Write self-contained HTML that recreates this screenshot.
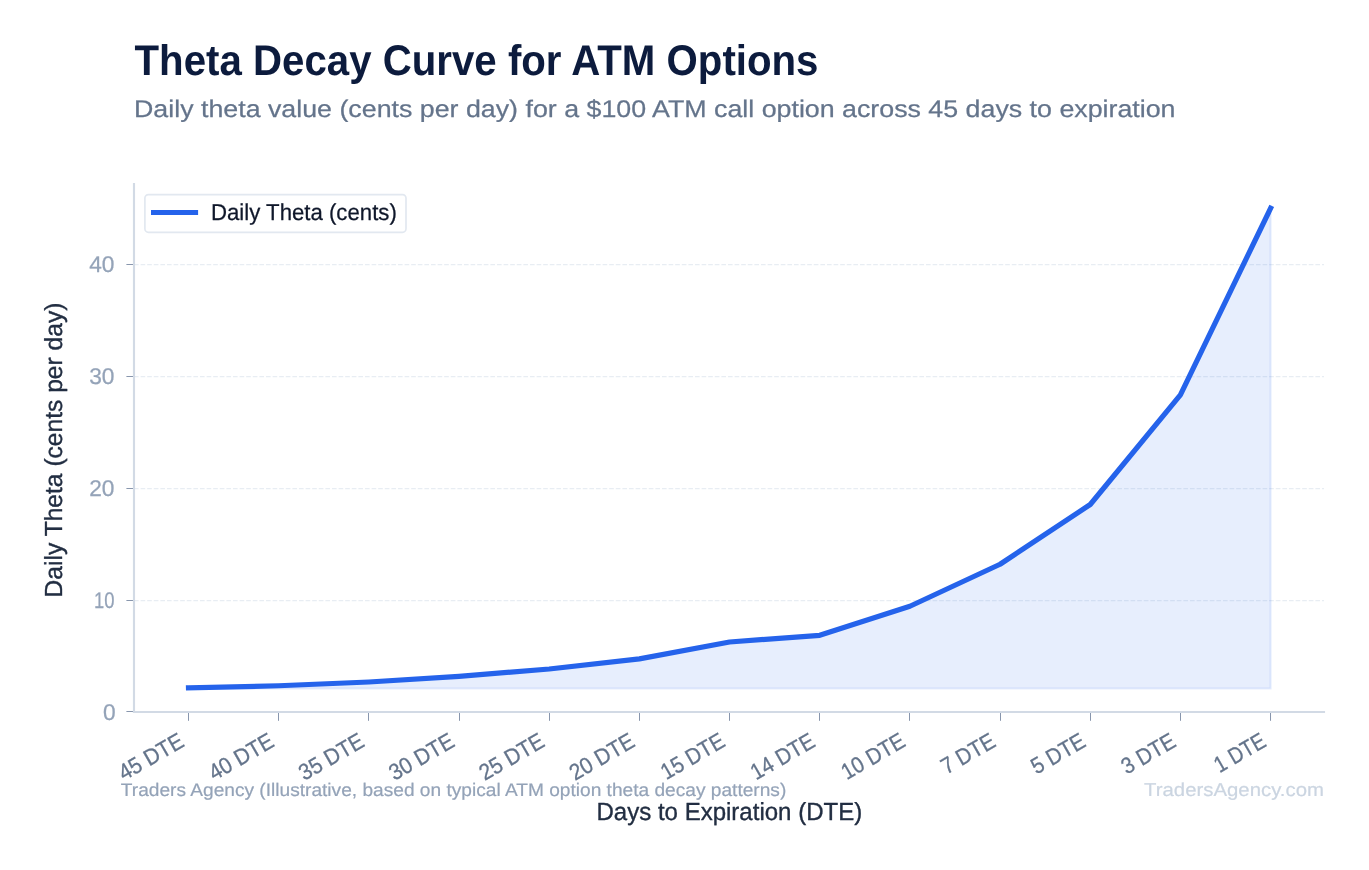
<!DOCTYPE html>
<html lang="en">
<head>
<meta charset="utf-8">
<title>Theta Decay Curve for ATM Options</title>
<style>
html,body{margin:0;padding:0;background:#ffffff;}
body{width:1369px;height:870px;overflow:hidden;position:relative;font-family:"Liberation Sans", sans-serif;}
svg text{font-family:"Liberation Sans", sans-serif;text-rendering:geometricPrecision;}
</style>
</head>
<body>
<svg width="1369" height="870" viewBox="0 0 1369 870" style="position:absolute;left:0;top:0;display:block;will-change:transform">
<rect x="0" y="0" width="1369" height="870" fill="#ffffff"/>
<line x1="134.0" y1="600.50" x2="1324.0" y2="600.50" stroke="#e2e8f0" stroke-width="1.25" stroke-dasharray="4.6 2" stroke-opacity="0.8"/>
<line x1="134.0" y1="488.50" x2="1324.0" y2="488.50" stroke="#e2e8f0" stroke-width="1.25" stroke-dasharray="4.6 2" stroke-opacity="0.8"/>
<line x1="134.0" y1="376.50" x2="1324.0" y2="376.50" stroke="#e2e8f0" stroke-width="1.25" stroke-dasharray="4.6 2" stroke-opacity="0.8"/>
<line x1="134.0" y1="264.50" x2="1324.0" y2="264.50" stroke="#e2e8f0" stroke-width="1.25" stroke-dasharray="4.6 2" stroke-opacity="0.8"/>
<polygon points="188.50,688.50 188.50,687.90 278.68,685.75 368.85,682.00 459.02,676.40 549.20,669.00 639.38,658.90 729.55,642.00 819.73,635.30 909.90,606.25 1000.07,564.25 1090.25,504.50 1180.42,394.80 1270.60,208.30 1270.60,688.50" fill="#2563eb" fill-opacity="0.11" stroke="#2563eb" stroke-opacity="0.11" stroke-width="2.08" stroke-linejoin="miter"/>
<polyline points="188.50,687.90 278.68,685.75 368.85,682.00 459.02,676.40 549.20,669.00 639.38,658.90 729.55,642.00 819.73,635.30 909.90,606.25 1000.07,564.25 1090.25,504.50 1180.42,394.80 1270.60,208.30" fill="none" stroke="#2563eb" stroke-width="5.2" stroke-linecap="square" stroke-linejoin="round"/>
<line x1="134.0" y1="184.0" x2="134.0" y2="712.0" stroke="#d2dae5" stroke-width="2.08" stroke-linecap="square"/>
<line x1="134.0" y1="712.0" x2="1324.0" y2="712.0" stroke="#d2dae5" stroke-width="2.08" stroke-linecap="square"/>
<line x1="126.40" y1="711.50" x2="134.0" y2="711.50" stroke="#8896ad" stroke-width="1.04"/>
<line x1="126.40" y1="600.50" x2="134.0" y2="600.50" stroke="#8896ad" stroke-width="1.04"/>
<line x1="126.40" y1="488.50" x2="134.0" y2="488.50" stroke="#8896ad" stroke-width="1.04"/>
<line x1="126.40" y1="376.50" x2="134.0" y2="376.50" stroke="#8896ad" stroke-width="1.04"/>
<line x1="126.40" y1="264.50" x2="134.0" y2="264.50" stroke="#8896ad" stroke-width="1.04"/>
<line x1="188.50" y1="712.0" x2="188.50" y2="720.80" stroke="#8896ad" stroke-width="1.04"/>
<line x1="278.50" y1="712.0" x2="278.50" y2="720.80" stroke="#8896ad" stroke-width="1.04"/>
<line x1="368.50" y1="712.0" x2="368.50" y2="720.80" stroke="#8896ad" stroke-width="1.04"/>
<line x1="459.50" y1="712.0" x2="459.50" y2="720.80" stroke="#8896ad" stroke-width="1.04"/>
<line x1="549.50" y1="712.0" x2="549.50" y2="720.80" stroke="#8896ad" stroke-width="1.04"/>
<line x1="639.50" y1="712.0" x2="639.50" y2="720.80" stroke="#8896ad" stroke-width="1.04"/>
<line x1="729.50" y1="712.0" x2="729.50" y2="720.80" stroke="#8896ad" stroke-width="1.04"/>
<line x1="819.50" y1="712.0" x2="819.50" y2="720.80" stroke="#8896ad" stroke-width="1.04"/>
<line x1="909.50" y1="712.0" x2="909.50" y2="720.80" stroke="#8896ad" stroke-width="1.04"/>
<line x1="1000.50" y1="712.0" x2="1000.50" y2="720.80" stroke="#8896ad" stroke-width="1.04"/>
<line x1="1090.50" y1="712.0" x2="1090.50" y2="720.80" stroke="#8896ad" stroke-width="1.04"/>
<line x1="1180.50" y1="712.0" x2="1180.50" y2="720.80" stroke="#8896ad" stroke-width="1.04"/>
<line x1="1270.50" y1="712.0" x2="1270.50" y2="720.80" stroke="#8896ad" stroke-width="1.04"/>
<line x1="134.0" y1="184.0" x2="134.0" y2="712.0" stroke="#d2dae5" stroke-width="2.08" stroke-linecap="square"/>
<line x1="134.0" y1="712.0" x2="1324.0" y2="712.0" stroke="#d2dae5" stroke-width="2.08" stroke-linecap="square"/>
<text id="yt0" x="115.60" y="719.75" font-size="22.7" fill="#94a3b8" stroke="#94a3b8" stroke-width="0.25" stroke-linejoin="round" text-anchor="end">0</text>
<text id="yt10" x="114.60" y="607.85" font-size="22.7" fill="#94a3b8" stroke="#94a3b8" stroke-width="0.25" stroke-linejoin="round" text-anchor="end" textLength="20.50" lengthAdjust="spacingAndGlyphs">10</text>
<text id="yt20" x="114.40" y="495.95" font-size="22.7" fill="#94a3b8" stroke="#94a3b8" stroke-width="0.25" stroke-linejoin="round" text-anchor="end">20</text>
<text id="yt30" x="114.40" y="384.05" font-size="22.7" fill="#94a3b8" stroke="#94a3b8" stroke-width="0.25" stroke-linejoin="round" text-anchor="end">30</text>
<text id="yt40" x="114.40" y="272.15" font-size="22.7" fill="#94a3b8" stroke="#94a3b8" stroke-width="0.25" stroke-linejoin="round" text-anchor="end">40</text>
<text id="xt0" x="185.50" y="745.50" font-size="22.7" fill="#64748b" stroke="#64748b" stroke-width="0.3" stroke-linejoin="round" text-anchor="end" textLength="71.00" lengthAdjust="spacingAndGlyphs" transform="rotate(-30 185.50 745.50)">45 DTE</text>
<text id="xt1" x="275.68" y="745.50" font-size="22.7" fill="#64748b" stroke="#64748b" stroke-width="0.3" stroke-linejoin="round" text-anchor="end" textLength="71.00" lengthAdjust="spacingAndGlyphs" transform="rotate(-30 275.68 745.50)">40 DTE</text>
<text id="xt2" x="365.85" y="745.50" font-size="22.7" fill="#64748b" stroke="#64748b" stroke-width="0.3" stroke-linejoin="round" text-anchor="end" textLength="71.00" lengthAdjust="spacingAndGlyphs" transform="rotate(-30 365.85 745.50)">35 DTE</text>
<text id="xt3" x="456.02" y="745.50" font-size="22.7" fill="#64748b" stroke="#64748b" stroke-width="0.3" stroke-linejoin="round" text-anchor="end" textLength="71.00" lengthAdjust="spacingAndGlyphs" transform="rotate(-30 456.02 745.50)">30 DTE</text>
<text id="xt4" x="546.20" y="745.50" font-size="22.7" fill="#64748b" stroke="#64748b" stroke-width="0.3" stroke-linejoin="round" text-anchor="end" textLength="71.00" lengthAdjust="spacingAndGlyphs" transform="rotate(-30 546.20 745.50)">25 DTE</text>
<text id="xt5" x="636.38" y="745.50" font-size="22.7" fill="#64748b" stroke="#64748b" stroke-width="0.3" stroke-linejoin="round" text-anchor="end" textLength="71.00" lengthAdjust="spacingAndGlyphs" transform="rotate(-30 636.38 745.50)">20 DTE</text>
<text id="xt6" x="726.55" y="745.50" font-size="22.7" fill="#64748b" stroke="#64748b" stroke-width="0.3" stroke-linejoin="round" text-anchor="end" textLength="69.50" lengthAdjust="spacingAndGlyphs" transform="rotate(-30 726.55 745.50)">15 DTE</text>
<text id="xt7" x="816.73" y="745.50" font-size="22.7" fill="#64748b" stroke="#64748b" stroke-width="0.3" stroke-linejoin="round" text-anchor="end" textLength="70.00" lengthAdjust="spacingAndGlyphs" transform="rotate(-30 816.73 745.50)">14 DTE</text>
<text id="xt8" x="906.90" y="745.50" font-size="22.7" fill="#64748b" stroke="#64748b" stroke-width="0.3" stroke-linejoin="round" text-anchor="end" textLength="69.50" lengthAdjust="spacingAndGlyphs" transform="rotate(-30 906.90 745.50)">10 DTE</text>
<text id="xt9" x="997.07" y="745.50" font-size="22.7" fill="#64748b" stroke="#64748b" stroke-width="0.3" stroke-linejoin="round" text-anchor="end" textLength="58.50" lengthAdjust="spacingAndGlyphs" transform="rotate(-30 997.07 745.50)">7 DTE</text>
<text id="xt10" x="1087.25" y="745.50" font-size="22.7" fill="#64748b" stroke="#64748b" stroke-width="0.3" stroke-linejoin="round" text-anchor="end" textLength="58.50" lengthAdjust="spacingAndGlyphs" transform="rotate(-30 1087.25 745.50)">5 DTE</text>
<text id="xt11" x="1177.42" y="745.50" font-size="22.7" fill="#64748b" stroke="#64748b" stroke-width="0.3" stroke-linejoin="round" text-anchor="end" textLength="58.50" lengthAdjust="spacingAndGlyphs" transform="rotate(-30 1177.42 745.50)">3 DTE</text>
<text id="xt12" x="1267.60" y="745.50" font-size="22.7" fill="#64748b" stroke="#64748b" stroke-width="0.3" stroke-linejoin="round" text-anchor="end" textLength="55.50" lengthAdjust="spacingAndGlyphs" transform="rotate(-30 1267.60 745.50)">1 DTE</text>
<rect x="144.9" y="194.6" width="261.1" height="37.7" rx="3.5" ry="3.5" fill="#ffffff" stroke="#e2e8f0" stroke-width="1.67"/>
<line x1="153.6" y1="212.5" x2="195.5" y2="212.5" stroke="#2563eb" stroke-width="5.2" stroke-linecap="square"/>
<text id="leg" x="211.00" y="220.20" font-size="23.0" fill="#0f172a" stroke="#0f172a" stroke-width="0.25" stroke-linejoin="round" textLength="185.80" lengthAdjust="spacingAndGlyphs">Daily Theta (cents)</text>
<text id="title" x="134.50" y="74.80" font-size="42.9" fill="#0c1b3d" font-weight="bold" textLength="684.00" lengthAdjust="spacingAndGlyphs">Theta Decay Curve for ATM Options</text>
<text id="sub" x="134.00" y="116.60" font-size="24.0" fill="#64748b" stroke="#64748b" stroke-width="0.25" stroke-linejoin="round" textLength="1041.50" lengthAdjust="spacingAndGlyphs">Daily theta value (cents per day) for a $100 ATM call option across 45 days to expiration</text>
<text id="xl" x="729.35" y="820.00" font-size="24.7" fill="#222e42" stroke="#222e42" stroke-width="0.35" stroke-linejoin="round" text-anchor="middle" textLength="265.70" lengthAdjust="spacingAndGlyphs">Days to Expiration (DTE)</text>
<text id="yl" x="62.25" y="450.00" font-size="24.7" fill="#222e42" stroke="#222e42" stroke-width="0.35" stroke-linejoin="round" text-anchor="middle" textLength="294.80" lengthAdjust="spacingAndGlyphs" transform="rotate(-90 62.25 450.00)">Daily Theta (cents per day)</text>
<text id="src" x="120.80" y="795.80" font-size="18.2" fill="#94a3b8" stroke="#94a3b8" stroke-width="0.2" stroke-linejoin="round" textLength="665.50" lengthAdjust="spacingAndGlyphs">Traders Agency (Illustrative, based on typical ATM option theta decay patterns)</text>
<text id="wm" x="1324.00" y="796.40" font-size="18.7" fill="#cbd5e1" stroke="#cbd5e1" stroke-width="0.2" stroke-linejoin="round" text-anchor="end" textLength="180.00" lengthAdjust="spacingAndGlyphs">TradersAgency.com</text>
</svg>
</body>
</html>
